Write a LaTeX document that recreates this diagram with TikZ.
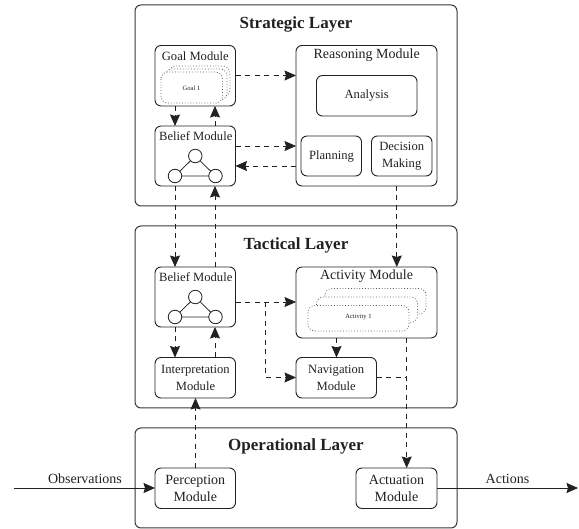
\documentclass[tikz,border=0pt]{standalone}
\usepackage{fontspec}
\setmainfont{Liberation Serif}
\usetikzlibrary{arrows.meta,calc}
\definecolor{ink}{gray}{0.13}
\tikzset{
  x=1pt,y=-1pt,
  every node/.style={text=ink,inner sep=0pt,outer sep=0pt},
  layerbox/.style={draw=ink!90,line width=1pt,rounded corners=6pt,anchor=north west},
  modbox/.style={draw=ink,line width=0.9pt,rounded corners=6pt,anchor=north west,align=center},
  titletext/.style={font=\bfseries\fontsize{17}{20}\selectfont},
  modtitle/.style={font=\fontsize{14}{17}\selectfont},
  modsmall/.style={font=\fontsize{12.6}{16.8}\selectfont},
  stack/.style={draw=ink!75,line width=0.8pt,dotted,rounded corners=7pt,fill=white},
  tinytext/.style={font=\fontsize{6.5}{8}\selectfont},
  dot/.style={circle,draw=ink,line width=0.8pt,fill=white,minimum size=13.5pt},
  flow/.style={draw=ink,line width=0.8pt,dash pattern=on 5pt off 4.5pt,-{Stealth[length=11.5pt,width=10pt,inset=1.5pt]}},
  flowplain/.style={draw=ink,line width=0.8pt,dash pattern=on 5pt off 4.5pt},
  solidflow/.style={draw=ink,line width=0.9pt,-{Stealth[length=11.5pt,width=10pt,inset=1.5pt]}},
  edgetext/.style={font=\fontsize{14}{17}\selectfont}
}
\newcommand{\modrect}[5]{\node[modbox,minimum width=#3pt,minimum height=#4pt] (#5) at (#1,#2) {};}
\begin{document}
\begin{tikzpicture}
\useasboundingbox (0,0) rectangle (579,529);
% layers
\node[layerbox,minimum width=322pt,minimum height=201pt] (strategic) at (135,5) {};
\node[layerbox,minimum width=322pt,minimum height=182pt] (tactical) at (135,226) {};
\node[layerbox,minimum width=322pt,minimum height=100pt] (operational) at (135,428) {};
\node[titletext] (tstr) at (296,24.5) {Strategic Layer};
\node[titletext] (ttac) at (296,245.5) {Tactical Layer};
\node[titletext] (top) at (296,446.5) {Operational Layer};
% x positions of vertical connectors
\coordinate (xa) at (175,0);
\coordinate (xb) at (215,0);
\coordinate (xc) at (195.5,0);
\coordinate (xd) at (396.8,0);
\coordinate (xe) at (336.5,0);
\coordinate (xf) at (406.7,0);
\coordinate (xg) at (265.8,0);
% y positions of horizontal connectors
\coordinate (ya) at (0,75.5);
\coordinate (yb) at (0,146);
\coordinate (yc) at (0,166);
\coordinate (yd) at (0,302);
\coordinate (ye) at (0,377.5);
\coordinate (yf) at (0,488);
% modules
\modrect{155}{45.5}{80.5}{60.5}{goal}
\modrect{155}{126}{80.5}{60}{beliefs}
\modrect{296}{45.5}{141}{140.5}{reason}
\modrect{316.5}{75.5}{100.5}{40.5}{analysis}
\modrect{301}{136}{60.5}{40}{plan}
\modrect{371.5}{136}{60.5}{40}{decide}
\modrect{155}{267}{80.5}{60}{belieft}
\modrect{155}{357.5}{80.5}{40.5}{interp}
\modrect{296}{267}{141}{71}{activity}
\modrect{296}{357.5}{80.5}{40.5}{nav}
\modrect{155}{468}{80.5}{40.5}{percept}
\modrect{356}{468}{81}{40.5}{actuate}
% module labels
\node[modsmall] (lgoal) at (195.3,56) {Goal Module};
\node[modsmall] (lbels) at (195.8,136.5) {Belief Module};
\node[modtitle] (lreas) at (366.7,55) {Reasoning Module};
\node[modsmall] (lana) at (366.7,95.5) {Analysis};
\node[modsmall] (lplan) at (331.5,156) {Planning};
\node[modsmall,align=center] (ldec) at (401.7,156) {Decision\\Making};
\node[modsmall] (lbelt) at (195.8,277.5) {Belief Module};
\node[modsmall,align=center] (lint) at (195.5,378) {Interpretation\\Module};
\node[modtitle] (lact) at (366.5,276.5) {Activity Module};
\node[modsmall,align=center] (lnav) at (336.2,378) {Navigation\\Module};
\node[modtitle,align=center] (lper) at (195.3,488.5) {Perception\\Module};
\node[modtitle,align=center] (lactu) at (396.5,488.5) {Actuation\\Module};
% goal stack
\draw[stack] (169,66) rectangle (230,97);
\draw[stack] (165,69) rectangle (227,100);
\draw[stack] (161,72) rectangle (222.5,103);
\node[tinytext] (g1) at (191.5,88) {Goal 1};
% activity stack
\draw[stack] (325,288.5) rectangle (426,314);
\draw[stack] (316.5,297) rectangle (417.5,322.5);
\draw[stack] (308,305.5) rectangle (409,331);
\node[tinytext] (a1) at (358.5,317.5) {Activity 1};
% belief graphs
\node[dot] (s1) at (195.3,156) {};
\node[dot] (s2) at (175,176) {};
\node[dot] (s3) at (215.5,176) {};
\draw[draw=ink,line width=0.8pt] (s1) -- (s2) (s2) -- (s3) (s3) -- (s1);
\node[dot] (t1) at (195.3,297) {};
\node[dot] (t2) at (175,317) {};
\node[dot] (t3) at (215.5,317) {};
\draw[draw=ink,line width=0.8pt] (t1) -- (t2) (t2) -- (t3) (t3) -- (t1);
% connectors, strategic
\draw[flow] (goal.east |- ya) -- (reason.west |- ya);
\draw[flow] (beliefs.east |- yb) -- (reason.west |- yb);
\draw[flow] (reason.west |- yc) -- (beliefs.east |- yc);
\draw[flow] (goal.south -| xa) -- (beliefs.north -| xa);
\draw[flow] (beliefs.north -| xb) -- (goal.south -| xb);
% between layers
\draw[flow] (beliefs.south -| xa) -- (belieft.north -| xa);
\draw[flow] (belieft.north -| xb) -- (beliefs.south -| xb);
\draw[flow] (reason.south -| xd) -- (activity.north -| xd);
% tactical
\draw[flow] (belieft.east |- yd) -- (activity.west |- yd);
\coordinate (branch) at (xg |- yd);
\draw[flow] (branch) -- (xg |- ye) -- (nav.west |- ye);
\draw[flow] (belieft.south -| xa) -- (interp.north -| xa);
\draw[flow] (interp.north -| xb) -- (belieft.south -| xb);
\draw[flow] (percept.north -| xc) -- (interp.south -| xc);
\draw[flow] (activity.south -| xe) -- (nav.north -| xe);
\draw[flow] (activity.south -| xf) -- (actuate.north -| xf);
\draw[flowplain] (nav.east |- ye) -- (xf |- ye);
% inputs and outputs
\coordinate (obsstart) at (14,488);
\coordinate (actend) at (578,488);
\draw[solidflow] (obsstart) -- (percept.west |- yf);
\draw[solidflow] (actuate.east |- yf) -- (actend);
\node[edgetext] (lobs) at (85,479) {Observations};
\node[edgetext] (lacts) at (507.5,479) {Actions};
\end{tikzpicture}
\end{document}
